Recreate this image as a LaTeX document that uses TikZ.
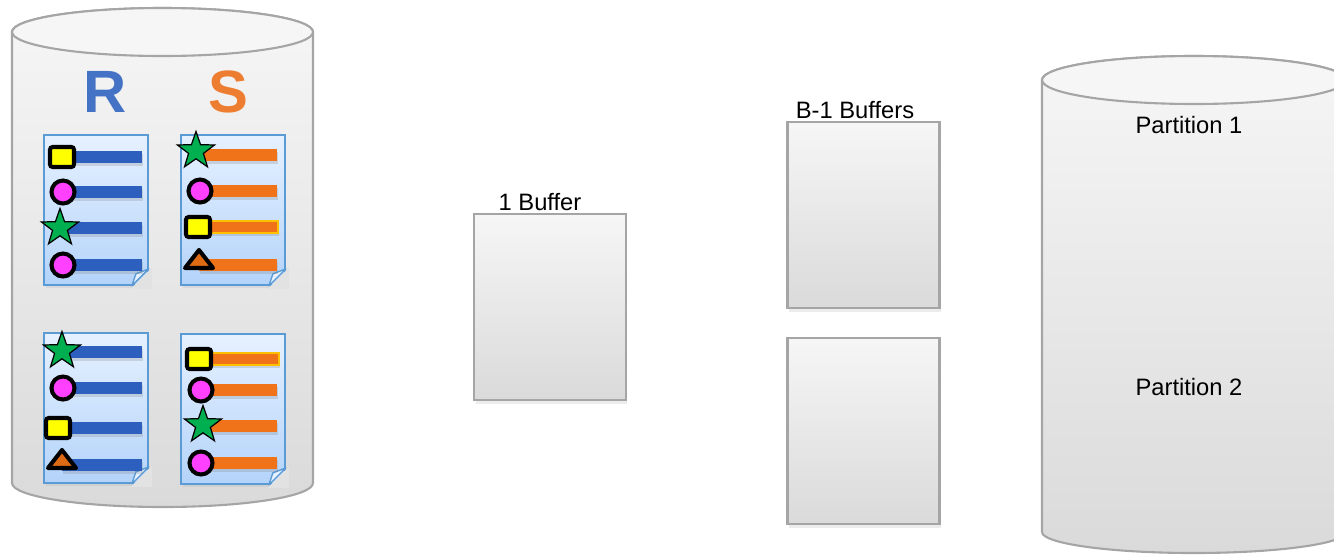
\documentclass[tikz,border=0pt]{standalone}
\usepackage{fontspec}
\setmainfont{Liberation Sans}
\usetikzlibrary{positioning,calc,shapes.geometric,shadows}
\usepackage{xcolor}
\definecolor{diskedge}{RGB}{165,165,165}
\definecolor{disktop}{RGB}{246,246,246}
\definecolor{diskbot}{RGB}{218,218,218}
\definecolor{relblue}{RGB}{68,114,196}
\definecolor{relorange}{RGB}{237,125,49}
\definecolor{docedge}{RGB}{91,155,213}
\definecolor{doctop}{RGB}{230,241,255}
\definecolor{docbot}{RGB}{180,211,250}
\definecolor{barblue}{RGB}{45,96,190}
\definecolor{barorange}{RGB}{240,115,25}
\definecolor{bargold}{RGB}{255,192,0}
\definecolor{mkyellow}{RGB}{255,255,0}
\definecolor{mkpink}{RGB}{255,64,255}
\definecolor{mkgreen}{RGB}{0,176,80}
\definecolor{mkbrown}{RGB}{222,106,20}

\begin{document}
\begin{tikzpicture}[
    x=0.02cm, y=0.02cm,
    disk/.style={draw=diskedge, line width=1.2pt, top color=disktop, bottom color=diskbot},
    diskcap/.style={draw=diskedge, line width=1.2pt, fill=disktop},
    docsheet/.style={rectangle, minimum width=2.08cm, minimum height=3cm, inner sep=0pt,
                     draw=docedge, line width=1pt, top color=doctop, bottom color=docbot,
                     drop shadow={opacity=0.12, shadow xshift=0.03cm, shadow yshift=-0.06cm}},
    fold/.style={draw=docedge, line width=0.8pt, fill=doctop, line join=round},
    rbar/.style={rectangle, fill=barblue, minimum width=1.6cm, minimum height=0.24cm, inner sep=0pt,
                 drop shadow={opacity=0.25, shadow xshift=0.02cm, shadow yshift=-0.06cm}},
    sbar/.style={rbar, fill=barorange, minimum width=1.56cm},
    goldbar/.style={draw=bargold, line width=0.8pt},
    mksq/.style={rectangle, rounded corners=1.5pt, fill=mkyellow, draw=black, line width=2.3pt,
                 minimum width=0.48cm, minimum height=0.4cm, inner sep=0pt},
    mkci/.style={circle, fill=mkpink, draw=black, line width=2.3pt, minimum size=0.46cm, inner sep=0pt},
    mkst/.style={star, star points=5, star point ratio=2.5, fill=mkgreen, draw=black,
                 line width=0.7pt, minimum size=0.78cm, inner sep=0pt},
    mktri/.style={regular polygon, regular polygon sides=3, fill=mkbrown, draw=black,
                  line width=2.3pt, line join=round, minimum size=0.48cm, inner sep=0pt,
                  xscale=1.35, transform shape},
    relname/.style={font=\fontsize{34}{34}\selectfont\bfseries},
    bufbox/.style={rectangle, draw=diskedge, line width=1.2pt, top color=disktop, bottom color=diskbot,
                   minimum width=3.04cm, minimum height=3.72cm,
                   drop shadow={opacity=0.15, shadow xshift=0.03cm, shadow yshift=-0.08cm}},
    lbl/.style={font=\fontsize{13.5}{16}\selectfont, inner sep=1pt}
]
\useasboundingbox (0,0) rectangle (1334,-555);

% Disk with R and S
\path[disk] (12,-32) -- (12,-483) arc[start angle=180, end angle=360, x radius=150.5, y radius=24]
    -- (313,-32) arc[start angle=0, end angle=180, x radius=150.5, y radius=24] -- cycle;
\draw[diskcap] (162.5,-32) ellipse[x radius=150.5, y radius=24];

\node[relname, text=relblue] (rname) at (105,-92) {R};
\node[relname, text=relorange] (sname) at (228,-92) {S};

% Pages
\node[docsheet] (r1) at (96,-210) {};
\node[docsheet] (s1) at (233,-210) {};
\node[docsheet] (r2) at (96,-408) {};
\node[docsheet] (s2) at (233,-409) {};
\foreach \d in {r1,s1,r2,s2} {
    \fill[diskbot!70!disktop] ($(\d.south east)+(-18,-3)$) -- ($(\d.south east)+(3,-3)$) -- ($(\d.south east)+(3,18)$) -- cycle;
    \draw[fold] ($(\d.south east)+(-17,0)$) -- ($(\d.south east)+(-13,12)$) -- ($(\d.south east)+(0,17)$) -- cycle;
}

% Records
\foreach \y in {157,192,228,265,352,388,428,465}
    \node[rbar] (rb\y) at (102,-\y) {};
\foreach \y in {155,191,265,390,426,463}
    \node[sbar] (sb\y) at (238,-\y) {};
\node[sbar, goldbar] (sb227) at (239,-227) {};
\node[sbar, goldbar] (sb359) at (240,-359) {};

\node[mksq] (ra1) at (62,-157) {};
\node[mkci] (ra2) at (63,-192) {};
\node[mkst] (ra3) at (60,-228) {};
\node[mkci] (ra4) at (63,-265) {};

\node[mkst] (sa1) at (196,-151) {};
\node[mkci] (sa2) at (200,-191) {};
\node[mksq] (sa3) at (198,-227) {};
\node[mktri] (sa4) at (199,-262) {};

\node[mkst] (rc1) at (62,-351) {};
\node[mkci] (rc2) at (63,-388) {};
\node[mksq] (rc3) at (58,-428) {};
\node[mktri] (rc4) at (62,-462) {};

\node[mksq] (sc1) at (199,-359) {};
\node[mkci] (sc2) at (201,-390) {};
\node[mkst] (sc3) at (203,-425) {};
\node[mkci] (sc4) at (201,-463) {};

% Buffers
\node[bufbox] (inbuf) at (550,-307) {};
\node[lbl, above=0pt of inbuf, xshift=-0.2cm] (inlbl) {1 Buffer};

\node[bufbox] (outa) at (863.5,-215) {};
\node[bufbox] (outb) at (863.5,-431) {};
\node[lbl, above=0pt of outa, xshift=-0.17cm] (outlbl) {B-1 Buffers};

% Partitions on disk
\path[disk] (1042,-80) -- (1042,-532) arc[start angle=180, end angle=360, x radius=152, y radius=21]
    -- (1346,-80) arc[start angle=0, end angle=180, x radius=152, y radius=24] -- cycle;
\draw[diskcap] (1194,-80) ellipse[x radius=152, y radius=24];
\node[lbl] (part1) at (1189,-125) {Partition 1};
\node[lbl] (part2) at (1189,-387) {Partition 2};

\end{tikzpicture}
\end{document}
